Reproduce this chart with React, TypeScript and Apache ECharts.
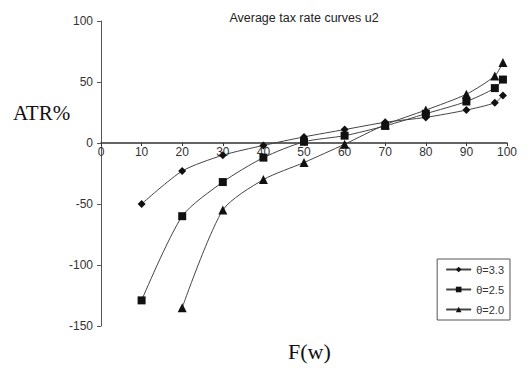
import React, { useEffect, useRef } from "react";
import * as echarts from "echarts";

const xTh33 = [10, 20, 30, 40, 50, 60, 70, 80, 90, 97, 99];
const yTh33 = [-50, -23, -10, -2, 5, 11, 17, 21, 27, 33, 39];
const xTh25 = [10, 20, 30, 40, 50, 60, 70, 80, 90, 97, 99];
const yTh25 = [-129, -60, -32, -12, 1, 6, 14, 24, 34, 45, 52];
const xTh20 = [20, 30, 40, 50, 60, 70, 80, 90, 97, 99];
const yTh20 = [-135, -55, -30, -16, -1, 15, 27, 40, 55, 66];
const seriesNames = ["θ=3.3", "θ=2.5", "θ=2.0"];

const pairs = (xs: number[], ys: number[]) => xs.map((x, i) => [x, ys[i]]);

export default function App() {
  const ref = useRef<HTMLDivElement>(null);
  useEffect(() => {
    if (!ref.current) return;
    const chart = echarts.init(ref.current, null, { renderer: "svg" });
    const lineStyle = { color: "#444", width: 1 };
    const mk = (name: string, data: number[][], symbol: string, size: number) => ({
      name,
      type: "line",
      data,
      smooth: 0.25,
      symbol,
      symbolSize: size,
      lineStyle,
      itemStyle: { color: "#111" },
      z: 3,
    });
    const gridTop = 21;
    const gridBottom = 49;
    const gridH = 375 - gridTop - gridBottom;
    const yMin = -150;
    const yMax = 100;
    const zeroOffset = -Math.round((gridH * (0 - yMin)) / (yMax - yMin));
    chart.setOption({
      animation: false,
      backgroundColor: "#fff",
      title: {
        text: "Average tax rate curves u2",
        left: 299,
        textAlign: "center",
        top: 6,
        textStyle: { fontFamily: "Liberation Sans", fontSize: 12.5, fontWeight: "normal", color: "#222" },
      },
      grid: { left: 101, right: 25, top: gridTop, bottom: gridBottom, containLabel: false, outerBoundsMode: "none" },
      xAxis: {
        type: "value",
        min: 0,
        max: 100,
        interval: 10,
        offset: zeroOffset,
        axisLine: { onZero: false, lineStyle: { color: "#333", width: 1.5 } },
        axisTick: { show: true, inside: false, length: 3, lineStyle: { color: "#333" } },
        axisLabel: {
          fontFamily: "Liberation Sans",
          fontSize: 12,
          color: "#333",
          margin: 3,
        },
        splitLine: { show: false },
      },
      yAxis: {
        type: "value",
        min: yMin,
        max: yMax,
        interval: 50,
        axisLine: { show: true, lineStyle: { color: "#555", width: 1 } },
        axisTick: { show: true, length: 4, lineStyle: { color: "#555" } },
        axisLabel: { fontFamily: "Liberation Sans", fontSize: 12, color: "#333", margin: 8 },
        splitLine: { show: false },
      },
      legend: {
        orient: "vertical",
        right: 22,
        top: 259,
        data: seriesNames,
        borderColor: "#555",
        borderWidth: 1,
        borderRadius: 0,
        padding: [5, 6, 5, 8],
        itemGap: 9,
        itemWidth: 25,
        itemHeight: 7,
        textStyle: { fontFamily: "Liberation Sans", fontSize: 11, color: "#333" },
      },
      graphic: [
        {
          type: "text",
          left: 13,
          top: 102,
          style: { text: "ATR%", font: "21px 'Liberation Serif'", fill: "#111" },
        },
        {
          type: "text",
          left: 288,
          top: 340,
          style: { text: "F(w)", font: "22px 'Liberation Serif'", fill: "#111" },
        },
      ],
      series: [
        mk(seriesNames[0], pairs(xTh33, yTh33), "diamond", 8),
        mk(seriesNames[1], pairs(xTh25, yTh25), "rect", 8),
        mk(seriesNames[2], pairs(xTh20, yTh20), "triangle", 9),
      ],
    });
    return () => chart.dispose();
  }, []);
  return <div ref={ref} style={{ width: 532, height: 375, position: "absolute", left: 0, top: 0 }} />;
}
